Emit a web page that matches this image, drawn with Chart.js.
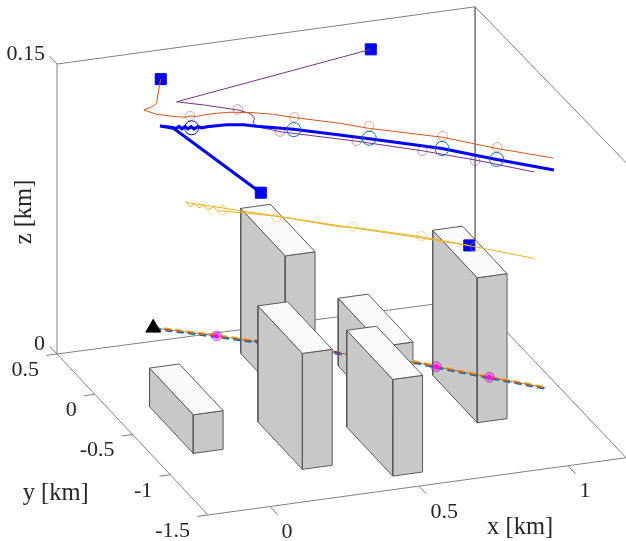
<!DOCTYPE html>
<html>
<head>
<meta charset="utf-8">
<title>flight tracks</title>
<script src="https://cdn.jsdelivr.net/npm/chart.js@4"></script>
<style>
  html, body { margin: 0; padding: 0; background: #fff; }
  canvas { display: block; }
</style>
</head>
<body>
<canvas id="chart" width="626" height="541"></canvas>
<script>
// axis limits and ticks, km
const xLim = [-0.208, 1.195];
const yLim = [-1.5, 0.5];
const zLim = [0, 0.15];
const xTicks = [0, 0.5, 1];
const yTicks = [0.5, 0, -0.5, -1, -1.5];
const zTicks = [0, 0.15];

// buildings, km
const bldX0 = [0.34, 0.85, 0.595, -0.08, 0.2, 0.45];
const bldX1 = [0.44, 0.95, 0.695, 0.02, 0.3, 0.55];
const bldY0 = [-0.36, -0.89, -0.65, -0.8, -1.14, -1.35];
const bldY1 = [0.23, -0.3, -0.055, -0.22, -0.55, -0.74];
const bldH = [0.075, 0.075, 0.035, 0.02, 0.06, 0.05];

// ground tracks, km
const gndX = [0.097, 0.263, 0.349, 0.582, 0.788, 0.83, 0.959, 1.097];
const gndY = [0.43, 0.245, 0.143, -0.131, -0.353, -0.424, -0.621, -0.824];
const gndZ = [0.01, 0.01, 0.01, 0.01, 0.01, 0.01, 0.01, 0.01];
const gndBlueY = [0.418, 0.233, 0.131, -0.143, -0.365, -0.436, -0.633, -0.836];
const gndPurpleY = [0.434, 0.249, 0.147, -0.127, -0.349, -0.42, -0.617, -0.82];
const gndYellowY = [0.44, 0.255, 0.153, -0.121, -0.343, -0.414, -0.611, -0.814];
const gndDotX = [0.263, 0.83, 0.959];
const gndDotY = [0.245, -0.424, -0.621];
const gndDotZ = [0.01, 0.01, 0.01];

// flown tracks, km
const redX = [0.115, 0.109, 0.104, 0.096, 0.071, 0.104, 0.156, 0.178, 0.191, 0.208, 0.226, 0.26, 0.295, 0.347, 0.408, 0.464, 0.581, 0.657, 0.848, 0.988, 1.136];
const redY = [0.401, 0.408, 0.413, 0.423, 0.45, 0.413, 0.353, 0.328, 0.313, 0.293, 0.274, 0.234, 0.194, 0.134, 0.065, 0, -0.134, -0.222, -0.441, -0.602, -0.771];
const redZ = [0.1395, 0.1328, 0.1267, 0.1251, 0.1224, 0.121, 0.1212, 0.1215, 0.1225, 0.1227, 0.1239, 0.1257, 0.1272, 0.1285, 0.1291, 0.1289, 0.1291, 0.1285, 0.129, 0.127, 0.1259];

const blueX = [0.375, 0.148, 0.113, 0.147, 0.155, 0.162, 0.17, 0.178, 0.186, 0.194, 0.201, 0.212, 0.222, 0.234, 0.286, 0.33, 0.364, 0.46, 0.581, 0.657, 0.846, 0.988, 1.137];
const blueY = [0.102, 0.363, 0.403, 0.364, 0.355, 0.346, 0.337, 0.328, 0.319, 0.31, 0.301, 0.289, 0.277, 0.263, 0.204, 0.154, 0.114, 0.005, -0.134, -0.222, -0.439, -0.602, -0.773];
const blueZ = [0.0877, 0.115, 0.1152, 0.1154, 0.115, 0.1163, 0.1153, 0.1167, 0.1157, 0.117, 0.1161, 0.1175, 0.1171, 0.1181, 0.1205, 0.1217, 0.1218, 0.1228, 0.123, 0.1232, 0.1232, 0.1213, 0.1198];

const purpleX = [0.661, 0.156, 0.226, 0.317, 0.344, 0.352, 0.359, 0.355, 0.364, 0.425, 0.624, 0.795, 0.932, 1.086];
const purpleY = [-0.226, 0.353, 0.274, 0.169, 0.137, 0.128, 0.121, 0.125, 0.114, 0.045, -0.184, -0.38, -0.537, -0.714];
const purpleZ = [0.1695, 0.1289, 0.1291, 0.1289, 0.128, 0.1273, 0.1256, 0.1237, 0.1216, 0.1206, 0.121, 0.1206, 0.1195, 0.1174];

const yellowX = [0.917, 0.181, 0.194, 0.201, 0.214, 0.225, 0.238, 0.251, 0.263, 0.276, 0.416, 0.581, 0.614, 0.793, 0.932, 1.086];
const yellowY = [-0.52, 0.325, 0.31, 0.301, 0.286, 0.274, 0.26, 0.245, 0.231, 0.216, 0.055, -0.134, -0.172, -0.378, -0.537, -0.714];
const yellowZ = [0.0749, 0.0775, 0.0755, 0.0777, 0.0755, 0.0773, 0.0751, 0.077, 0.0752, 0.0756, 0.0767, 0.0755, 0.0762, 0.0761, 0.0746, 0.0727];

// waypoints circled along each track, km
const redMarkX = [0.191, 0.462, 0.657, 0.848, 0.99];
const redMarkY = [0.313, 0.002, -0.222, -0.441, -0.603];
const redMarkZ = [0.1225, 0.129, 0.1296, 0.1296, 0.1276];
const blueMarkX = [0.195, 0.461, 0.657, 0.846, 0.988];
const blueMarkY = [0.308, 0.004, -0.222, -0.439, -0.602];
const blueMarkZ = [0.1165, 0.1226, 0.1234, 0.1232, 0.1213];
const purpleMarkX = [0.315, 0.425, 0.624, 0.795, 0.932];
const purpleMarkY = [0.171, 0.045, -0.184, -0.38, -0.537];
const purpleMarkZ = [0.1292, 0.1206, 0.1212, 0.1206, 0.1191];
const yellowMarkX = [0.276, 0.416, 0.614, 0.793, 0.932];
const yellowMarkY = [0.216, 0.055, -0.172, -0.378, -0.537];
const yellowMarkZ = [0.076, 0.0761, 0.0765, 0.0764, 0.0746];

const RED = '#D95319';
const PURPLE = '#7E2F8E';
const YELLOW = '#EDB120';
const CYAN = '#0072BD';
const AXIS = '#808080';
const INK = '#262626';

// fixed camera of the 3-D view
function project(x, y, z) {
  return {
    x: 156.75 + 298 * x - 75.5 * y,
    y: 385.75 - 40.8 * x - 80.5 * y - 1933 * z,
  };
}

function pts(xs, ys, zs) {
  return xs.map((x, i) => project(x, ys[i], zs[i]));
}

const datasets = [];

function addLine(data, color, width, extra) {
  datasets.push(Object.assign({
    data: data,
    showLine: true,
    borderColor: color,
    borderWidth: width,
    pointRadius: 0,
    tension: 0,
    fill: false,
    clip: false,
  }, extra));
}

function addMarks(data, style, radius, color, fillColor) {
  datasets.push({
    data: data,
    showLine: false,
    pointStyle: style,
    pointRadius: radius,
    pointBorderColor: color,
    pointBorderWidth: 1,
    pointBackgroundColor: fillColor,
    clip: false,
  });
}

function addBox(i) {
  const x0 = bldX0[i], x1 = bldX1[i], y0 = bldY0[i], y1 = bldY1[i], h = bldH[i];
  const faces = [
    [[x0, y1, 0], [x0, y0, 0], [x0, y0, h], [x0, y1, h], [x0, y1, 0], '#C8C8C8'],
    [[x0, y0, 0], [x1, y0, 0], [x1, y0, h], [x0, y0, h], [x0, y0, 0], '#C8C8C8'],
    [[x0, y1, h], [x1, y1, h], [x1, y0, h], [x0, y0, h], [x0, y1, h], '#FAFAFA'],
  ];
  faces.forEach(f => {
    addLine(f.slice(0, 5).map(p => project(p[0], p[1], p[2])), '#5A5A5A', 1, {
      fill: 'shape',
      backgroundColor: f[5],
    });
  });
}

// axis box, the far corners nudged for the slight perspective of the view
const [xa, xb] = xLim;
const [ya, yb] = yLim;
const zb = zLim[1];
const backFloor = project(xb, yb, -0.001);
addLine([project(xa, yb, 0), project(xa, ya, 0), project(xb, ya, 0), backFloor, project(xa, yb, 0)], AXIS, 1);
addLine([project(xa, yb, 0), project(xa, yb, zb), project(xb, yb, zb), backFloor], AXIS, 1);
addLine([project(xb, yb, zb), project(xb, ya, zb + 0.0026)], AXIS, 1);
xTicks.forEach(t => addLine([project(t, ya, 0), project(t, ya - 0.1, 0)], AXIS, 1));
yTicks.forEach(t => addLine([project(xa, t, 0), project(xa - 0.036, t, 0)], AXIS, 1));
zTicks.forEach(t => addLine([project(xa, yb, t), project(xa, yb + 0.1, t)], AXIS, 1));

// buildings behind the ground track
[0, 1, 2].forEach(addBox);

// ground track
const gndDash = { borderDash: [7, 4.4] };
addLine(pts(gndX, gndY, gndZ), '#555555', 0.7);
addLine(pts(gndX, gndBlueY, gndZ), CYAN, 2.4, gndDash);
addLine(pts(gndX, gndYellowY, gndZ), YELLOW, 2.4, gndDash);
addLine(pts(gndX, gndY, gndZ), RED, 1.4, gndDash);
addLine(pts(gndX.slice(2, 4), gndPurpleY.slice(2, 4), gndZ), PURPLE, 2.4, { borderDash: [7, 4.4], borderDashOffset: 6.4 });
addMarks(pts(gndDotX, gndDotY, gndDotZ), 'circle', 5, 'rgba(126,47,142,0.55)', 'rgba(255,0,255,0.35)');
addMarks(pts(gndDotX, gndDotY, gndDotZ), 'circle', 2.2, 'rgba(255,0,255,0.8)', 'rgba(255,0,255,0.8)');
addMarks(pts(gndX.slice(0, 1), gndY, gndZ), 'triangle', 8.5, '#000000', '#000000');

// buildings in front of it
[3, 4, 5].forEach(addBox);

// flown tracks and their start squares
addMarks([project(redX[0], redY[0], redZ[0]), project(blueX[0], blueY[0], blueZ[0]), project(purpleX[0], purpleY[0], purpleZ[0]), project(yellowX[0], yellowY[0], yellowZ[0])], 'rect', 7.8, '#0000FF', '#0000FF');
addLine(pts(purpleX, purpleY, purpleZ), PURPLE, 1);
addLine(pts(redX, redY, redZ), RED, 1);
addLine(pts(yellowX, yellowY, yellowZ), YELLOW, 1);
addLine(pts(blueX, blueY, blueZ), '#0000FF', 3);
addMarks(pts(redMarkX, redMarkY, redMarkZ), 'circle', 4.7, 'rgba(217,83,25,0.5)', 'transparent');
addMarks(pts(purpleMarkX, purpleMarkY, purpleMarkZ), 'circle', 4.7, 'rgba(126,47,142,0.5)', 'transparent');
addMarks(pts(yellowMarkX, yellowMarkY, yellowMarkZ), 'circle', 4.7, 'rgba(237,177,32,0.5)', 'transparent');
addMarks(pts(blueMarkX.slice(0, 1), blueMarkY, blueMarkZ), 'circle', 7, '#0000FF', 'transparent');
addMarks(pts(blueMarkX.slice(1), blueMarkY.slice(1), blueMarkZ.slice(1)), 'circle', 7, CYAN, 'transparent');

datasets.forEach((d, i) => { d.order = -i; });

const axisText = {
  id: 'axisText',
  afterDraw(chart) {
    const ctx = chart.ctx;
    const sx = chart.scales.x;
    const sy = chart.scales.y;
    const put = (text, p, dx, dy, align, font) => {
      ctx.font = font;
      ctx.textAlign = align;
      ctx.fillText(text, sx.getPixelForValue(p.x) + dx, sy.getPixelForValue(p.y) + dy);
    };
    const tickFont = '22px "Liberation Serif"';
    const labelFont = '24.5px "Liberation Serif"';
    ctx.save();
    ctx.fillStyle = INK;
    ctx.textBaseline = 'middle';
    xTicks.forEach(t => put(String(t), project(t, ya, 0), 11.5, 26, 'left', tickFont));
    yTicks.forEach(t => put(String(t), project(xa, t, 0), -18, 16, 'right', tickFont));
    zTicks.forEach(t => put(String(t), project(xa, yb, t), -12, -10, 'right', tickFont));
    put('x [km]', project(0.95, ya, 0), -33, 60, 'center', labelFont);
    put('y [km]', project(xa, -0.9, 0), -107, 27, 'center', labelFont);
    ctx.translate(25, 212);
    ctx.rotate(-Math.PI / 2);
    put('z [km]', { x: sx.min, y: sy.min }, 0, 0, 'center', labelFont);
    ctx.restore();
  },
};

new Chart(document.getElementById('chart'), {
  type: 'scatter',
  data: { datasets: datasets },
  plugins: [axisText],
  options: {
    responsive: false,
    animation: false,
    layout: { padding: 0, autoPadding: false },
    plugins: { legend: { display: false }, tooltip: { enabled: false } },
    scales: {
      x: { type: 'linear', min: 0, max: 626, display: false },
      y: { type: 'linear', min: 0, max: 541, reverse: true, display: false },
    },
  },
});
</script>
</body>
</html>
